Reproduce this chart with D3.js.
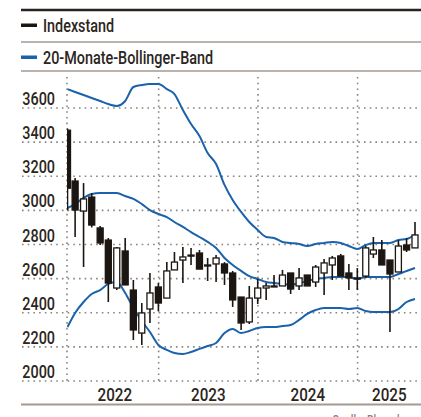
<!DOCTYPE html>
<html>
<head>
<meta charset="utf-8">
<script src="https://cdn.jsdelivr.net/npm/d3@7"></script>
<style>
  body { margin: 0; background: #fff; }
  text { font-family: Roboto, "Noto Sans", sans-serif; fill: #2b2520; font-weight: 500; }
</style>
</head>
<body>
<svg id="chart"></svg>
<script>
// monthly candles, Jan 2022 - Jul 2025
const months = [
  "2022-01","2022-02","2022-03","2022-04","2022-05","2022-06","2022-07","2022-08","2022-09","2022-10","2022-11","2022-12",
  "2023-01","2023-02","2023-03","2023-04","2023-05","2023-06","2023-07","2023-08","2023-09","2023-10","2023-11","2023-12",
  "2024-01","2024-02","2024-03","2024-04","2024-05","2024-06","2024-07","2024-08","2024-09","2024-10","2024-11","2024-12",
  "2025-01","2025-02","2025-03","2025-04","2025-05","2025-06","2025-07"
];
const open = [3470,3172,2996,3078,2897,2826,2545,2762,2533,2281,2422,2551,
  2486,2651,2709,2738,2750,2680,2686,2686,2633,2492,2346,2486,
  2545,2551,2557,2633,2557,2621,2580,2633,2680,2733,2633,2604,
  2615,2744,2768,2709,2639,2797,2780];
const high = [3480,3190,3160,3102,2908,2838,2785,2838,2592,2457,2633,2574,
  2697,2756,2785,2780,2768,2721,2738,2697,2645,2492,2557,2598,
  2574,2621,2651,2633,2662,2621,2680,2715,2733,2745,2686,2662,
  2792,2844,2826,2709,2826,2838,2932];
const low = [3000,2844,2668,2900,2797,2463,2533,2563,2240,2211,2340,2410,
  2486,2651,2574,2680,2656,2586,2580,2563,2434,2299,2334,2451,
  2475,2551,2557,2510,2533,2557,2551,2504,2592,2615,2533,2533,
  2604,2721,2680,2287,2639,2756,2780];
const close = [3130,3002,3067,2914,2809,2574,2780,2563,2299,2399,2516,2457,
  2645,2697,2727,2732,2656,2674,2721,2633,2475,2340,2486,2545,
  2557,2557,2621,2539,2604,2557,2668,2692,2721,2615,2604,2598,
  2780,2768,2680,2627,2791,2768,2856];

// 20-Monate-Bollinger-Band
const bandUpper = [3711,3694,3676,3659,3641,3623,3612,3641,3723,3735,3741,3741,
  3711,3682,3588,3506,3436,3336,3272,3149,3061,2991,2932,2885,
  2844,2838,2815,2809,2803,2791,2803,2809,2815,2809,2791,2774,
  2797,2809,2809,2809,2826,2832,2856];
const bandMid = [3014,3037,3073,3096,3102,3102,3102,3084,3067,3037,3002,2979,
  2961,2932,2903,2873,2844,2815,2780,2721,2680,2645,2615,2598,
  2580,2574,2569,2563,2574,2586,2598,2604,2610,2610,2610,2598,
  2610,2610,2610,2610,2627,2645,2662];
const bandLower = [2316,2399,2463,2510,2533,2569,2580,2516,2428,2352,2287,2211,
  2182,2164,2158,2170,2188,2205,2223,2281,2305,2281,2293,2311,
  2316,2316,2322,2328,2358,2393,2416,2428,2428,2428,2422,2428,
  2410,2404,2404,2404,2422,2463,2481];

const yTicks = [2000,2200,2400,2600,2800,3000,3200,3400,3600];
const years = [2022,2023,2024,2025];
const legendItems = ["Indexstand", "20-Monate-Bollinger-Band"];
const source = "Quelle: Bloomberg";

const W = 421, H = 417;
const dark = "#1c1612", blue = "#1a62ab", grid = "#8c837b", rule = "#a39a92";
const sx = 0.8; // narrow type

const parse = d3.timeParse("%Y-%m");
const monthEnd = m => d3.timeDay.offset(d3.timeMonth.offset(parse(m), 1), -1);

const data = months.map((m, i) => ({
  date: monthEnd(m), open: open[i], high: high[i], low: low[i], close: close[i],
  up: bandUpper[i], mid: bandMid[i], lo: bandLower[i]
}));

const plotLeft = 67, plotRight = W, plotTop = 77, plotBottom = 381;

const x = d3.scaleTime()
  .domain([monthEnd("2022-01"), monthEnd("2025-07")])
  .range([67.5, 415]);
const y = d3.scaleLinear().domain([2000, 3600]).range([381, 108]);

const svg = d3.select("#chart")
  .attr("width", W).attr("height", H)
  .attr("viewBox", [0, 0, W, H]);

function label(g, tx, ty, txt, anchor, size) {
  return g.append("text")
    .attr("transform", `translate(${tx},${ty}) scale(${sx},1)`)
    .attr("text-anchor", anchor || "start")
    .attr("font-size", size || 18)
    .text(txt);
}

// header rules + legend
svg.append("line").attr("x1", 21).attr("x2", W).attr("y1", 10).attr("y2", 10)
  .attr("stroke", "#2a231d").attr("stroke-width", 2.5);
[42, 71].forEach(yy => svg.append("line").attr("x1", 21).attr("x2", W)
  .attr("y1", yy).attr("y2", yy).attr("stroke", rule).attr("stroke-width", 1.5));

const legend = svg.append("g");
legendItems.forEach((t, i) => {
  const ly = 25 + i * 32;
  legend.append("rect").attr("x", 21).attr("y", ly - 1.5).attr("width", 16).attr("height", 3.5)
    .attr("fill", i === 0 ? dark : blue);
  label(legend, 43, ly + 6.5, t);
});

// grid
const gGrid = svg.append("g").attr("stroke", grid).attr("stroke-width", 1.6)
  .attr("stroke-dasharray", "1.6,4.1");
gGrid.selectAll("line.h").data(yTicks).join("line").attr("class", "h")
  .attr("x1", 22).attr("x2", 418)
  .attr("y1", d => y(d)).attr("y2", d => y(d));

const yearLines = years.slice(1).map(yr => new Date(yr, 0, 1));
gGrid.selectAll("line.v").data([plotLeft, ...yearLines.map(x)]).join("line").attr("class", "v")
  .attr("x1", d => d).attr("x2", d => d)
  .attr("y1", plotTop).attr("y2", plotBottom);

// y labels
const gy = svg.append("g");
yTicks.forEach(t => label(gy, 55, y(t) - 3, t, "end"));

// x labels, centred in visible part of each year
const gx = svg.append("g");
years.forEach(yr => {
  const a = Math.max(plotLeft + 4, x(new Date(yr, 0, 1)));
  const b = Math.min(plotRight, x(new Date(yr + 1, 0, 1)));
  label(gx, (a + b) / 2, 401, yr, "middle", 19);
});

svg.append("line").attr("x1", 21).attr("x2", W).attr("y1", 404.5).attr("y2", 404.5)
  .attr("stroke", rule).attr("stroke-width", 2);

// source line sits at the very bottom edge, as in the original
label(svg, 418, 424, source, "end", 13).style("fill", "#8c837b");

// plot
svg.append("clipPath").attr("id", "clip").append("rect")
  .attr("x", plotLeft).attr("y", plotTop).attr("width", plotRight - plotLeft).attr("height", plotBottom - plotTop + 20);
const plot = svg.append("g").attr("clip-path", "url(#clip)");

["up", "mid", "lo"].forEach(k => {
  plot.append("path").datum(data)
    .attr("fill", "none").attr("stroke", blue).attr("stroke-width", 2)
    .attr("stroke-linejoin", "round")
    .attr("d", d3.line().x(d => x(d.date)).y(d => y(d[k])).curve(d3.curveMonotoneX));
});

const bw = 7;
const candle = plot.selectAll("g.c").data(data).join("g").attr("class", "c");
candle.append("line")
  .attr("x1", d => x(d.date)).attr("x2", d => x(d.date))
  .attr("y1", d => y(d.high)).attr("y2", d => y(d.low))
  .attr("stroke", dark).attr("stroke-width", 1.6);
candle.append("rect")
  .attr("x", d => x(d.date) - bw / 2 + 0.5)
  .attr("width", bw - 1)
  .attr("y", d => y(Math.max(d.open, d.close)))
  .attr("height", d => Math.max(1, Math.abs(y(d.open) - y(d.close))))
  .attr("fill", d => d.close >= d.open ? "#fff" : dark)
  .attr("stroke", dark).attr("stroke-width", 1.3);
</script>
</body>
</html>
